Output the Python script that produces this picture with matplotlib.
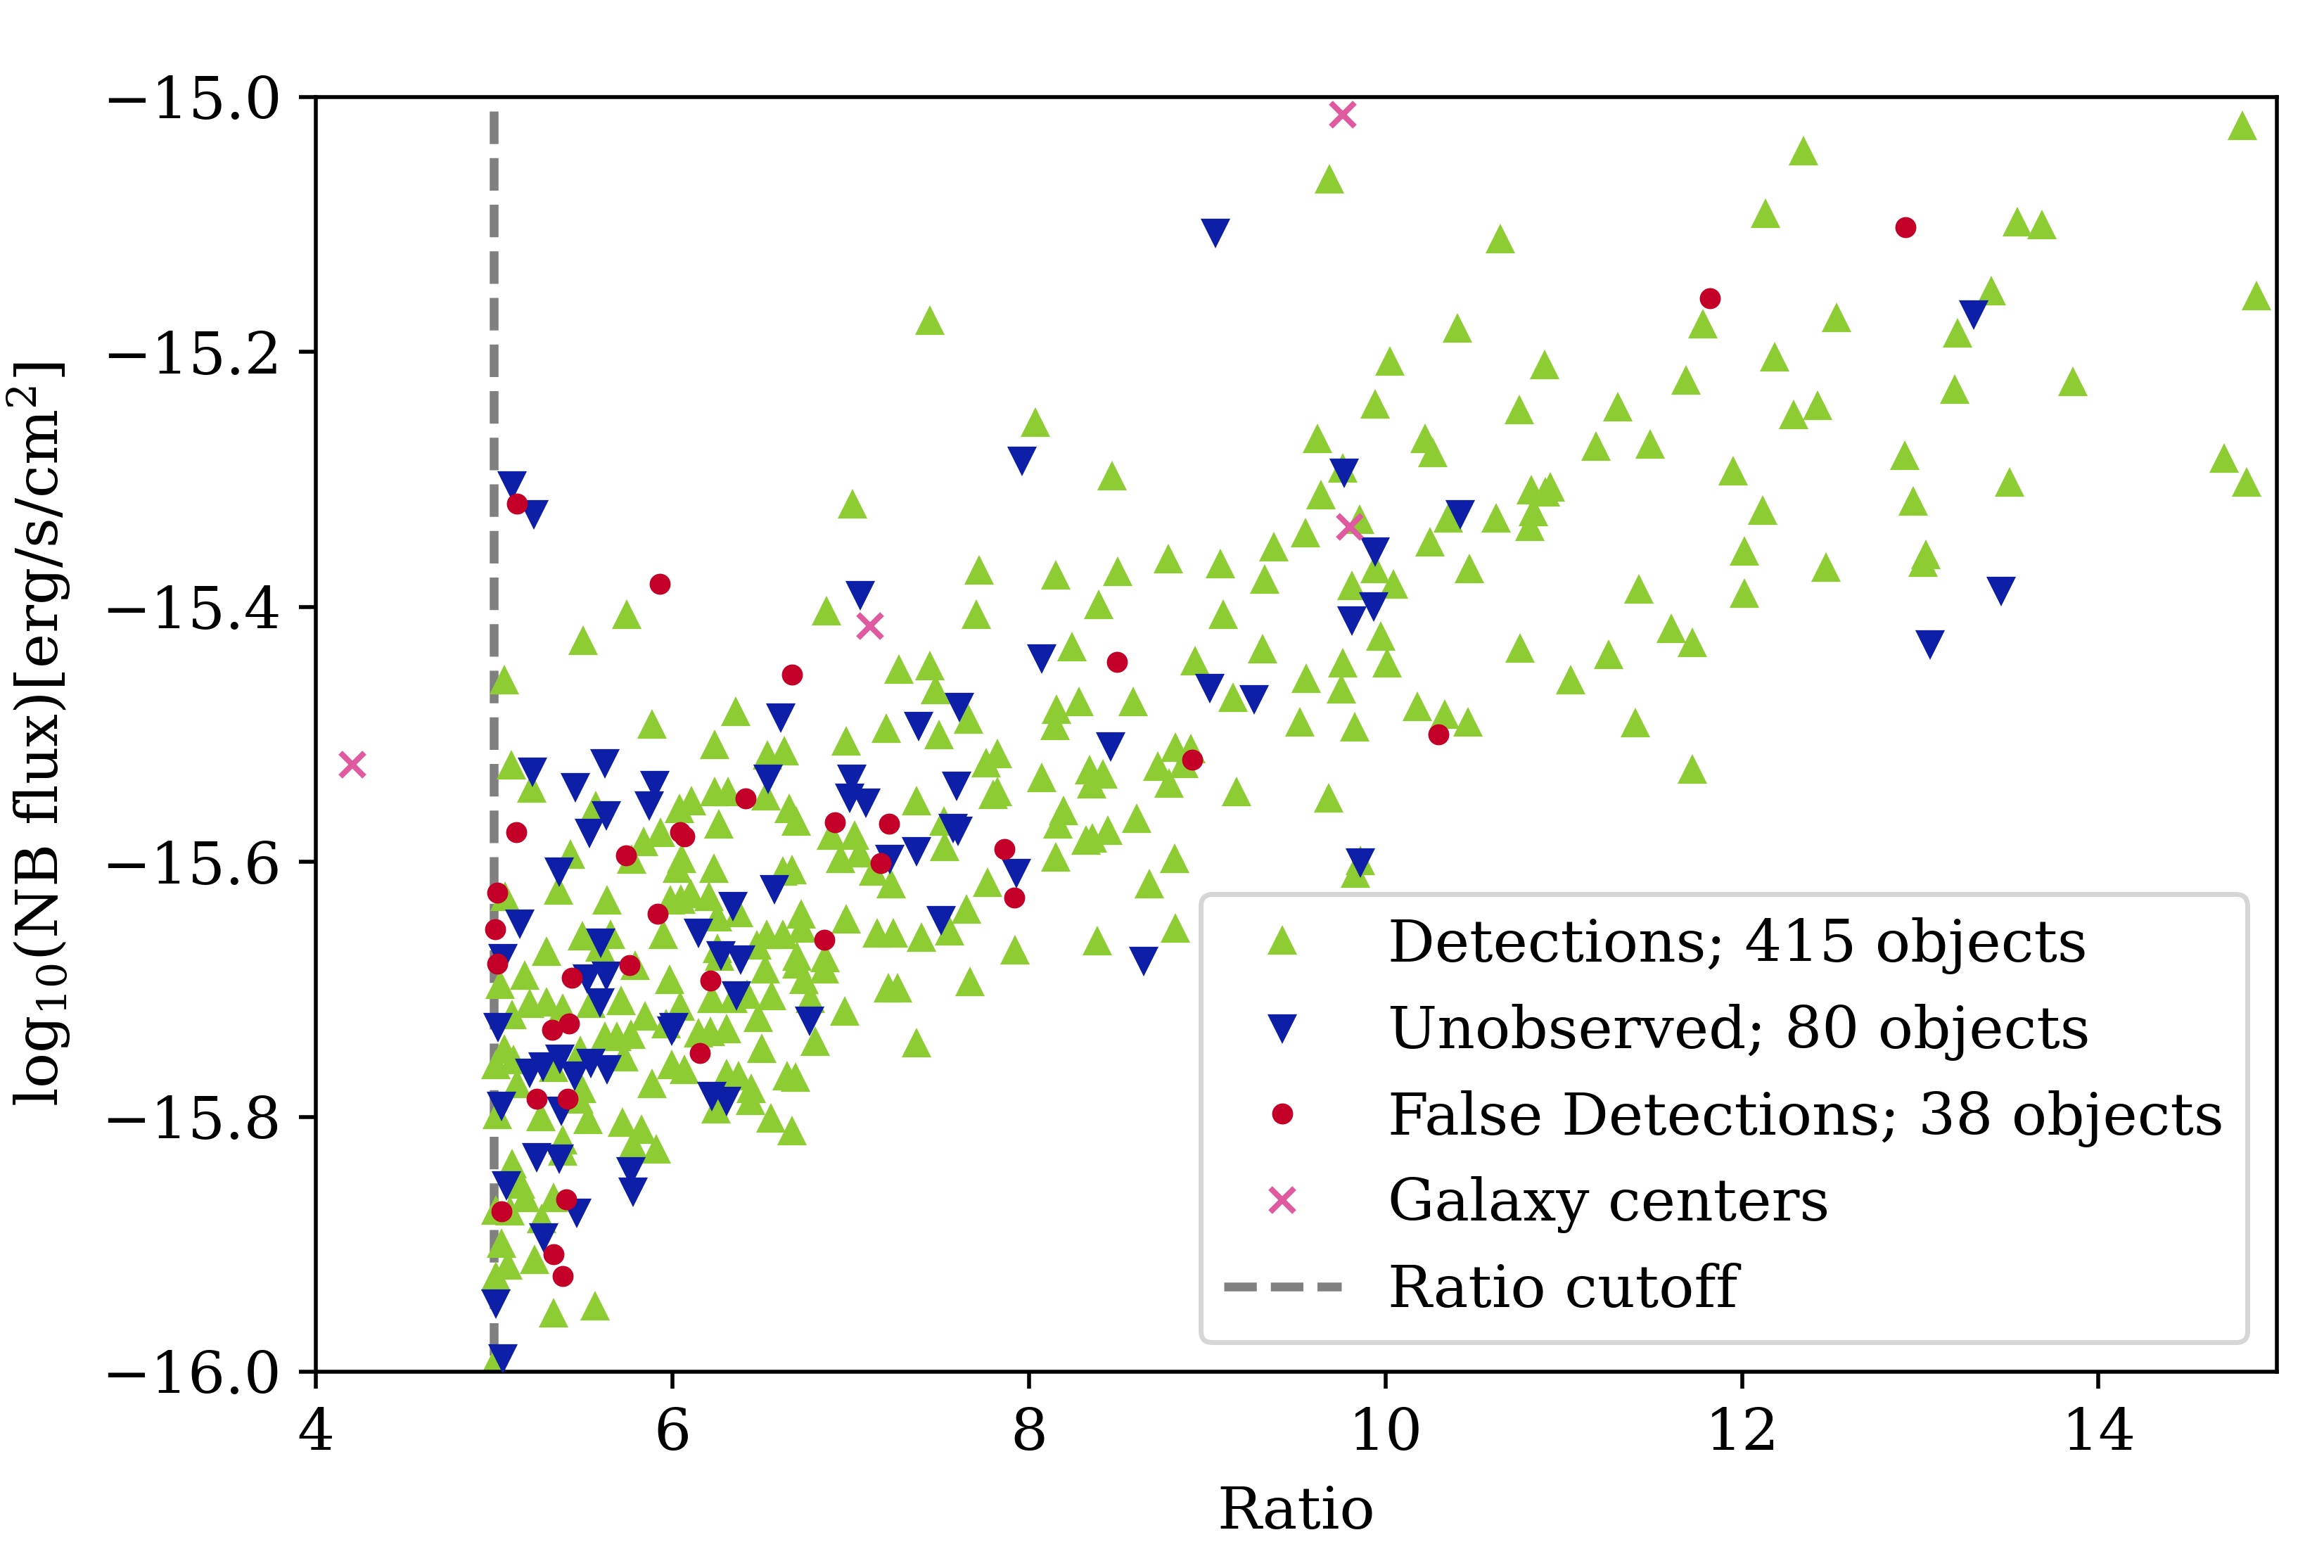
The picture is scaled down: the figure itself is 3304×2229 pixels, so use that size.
import matplotlib
matplotlib.use("Agg")
import matplotlib.pyplot as plt

plt.rcParams['font.family'] = ['DejaVu Serif']
plt.rcParams['mathtext.fontset'] = 'dejavuserif'

# ---------------- data ----------------
det_x = [14.807, 13.546, 13.684, 13.399, 12.531, 13.209, 14.885, 13.195, 13.855, 12.425,
         12.915, 12.961, 13.499, 14.704, 14.831, 12.47, 13.033, 13.015,
         12.346, 12.131, 10.646, 11.779, 10.405, 10.026, 10.893, 12.184, 11.686, 9.943,
         10.752, 11.303, 12.288, 10.222, 10.266, 11.18, 11.483, 11.952, 10.819, 10.923,
         10.897, 10.83, 10.812, 10.62, 10.354, 9.857, 10.248, 9.942, 10.044, 10.47,
         12.117, 12.015, 12.013, 9.975, 10.01, 10.755, 11.42, 11.603, 11.721, 11.252,
         11.039, 10.178, 10.334, 10.461, 11.402, 11.721, 10.06,
         8.038, 8.466, 9.617, 9.762, 9.637, 9.551, 9.372, 9.075, 8.783, 8.499,
         8.151, 9.321, 8.391, 9.09, 9.812, 8.241, 8.93, 9.312, 9.145, 9.554,
         9.762, 9.753, 9.52, 9.828, 8.153, 8.147, 8.282, 8.583, 8.823, 8.91,
         8.723, 8.867, 8.787, 8.07, 8.341, 8.416, 8.35, 9.163, 9.683, 8.194,
         8.164, 8.32, 8.356, 8.443, 8.603, 8.149, 8.816, 8.675, 9.83, 9.86,
         8.382, 8.823, 7.923,
         9.685, 7.443, 7.719, 7.706, 6.863, 5.743, 7.009,
         5.498, 5.056, 6.357, 5.887, 6.237, 5.098, 5.213, 5.569, 6.237, 6.313,
         6.106, 6.038, 6.262, 5.932, 5.84, 5.773, 5.427, 5.362, 6.053, 6.029,
         6.233, 5.063, 5.632, 5.99, 6.049, 6.102, 6.207, 6.253, 5.95, 6.372,
         5.497, 5.652, 5.595, 5.295, 6.253, 6.263, 5.793, 5.172, 5.986, 5.034,
         5.201, 5.293, 5.385, 5.714, 5.845, 5.543, 5.102, 6.148, 6.213, 6.306,
         5.963, 6.22, 6.338, 6.042, 5.056, 5.01, 5.109, 5.687, 5.766, 5.622,
         5.727, 5.484, 5.332, 5.996, 6.069, 5.885, 6.306, 6.371, 6.246, 5.128,
         5.49, 5.477, 5.017, 5.264, 5.527, 5.72, 5.826, 5.779, 5.911, 5.385,
         5.385, 5.102, 5.148, 5.174, 5.332, 5.01, 5.089, 5.266, 5.043, 5.076,
         5.227, 5.01, 5.332, 5.566, 5.004,
         7.272, 7.443, 7.476, 7.663, 7.2, 7.494, 6.975, 6.532, 6.628, 7.759,
         7.822, 7.371, 7.798, 7.825, 6.526, 6.654, 6.693, 6.891, 7.022, 7.522,
         7.529, 6.943, 7.049, 7.127, 7.226, 7.769, 6.621, 6.671, 7.65, 7.555,
         6.724, 6.726, 6.974, 7.147, 7.239, 7.397, 6.529, 6.621, 6.474, 6.7,
         6.7, 6.858, 6.851, 6.522, 6.74, 7.671, 7.21, 7.263, 6.417, 6.555,
         6.772, 6.967, 6.483, 6.5, 6.8, 7.371, 6.444, 6.437, 6.644, 6.69,
         6.553, 6.67]
det_y = [-15.023, -15.099, -15.101, -15.153, -15.174, -15.186, -15.157, -15.230, -15.224, -15.243,
         -15.282, -15.318, -15.303, -15.284, -15.303, -15.370, -15.360, -15.366,
         -15.043, -15.092, -15.112, -15.179, -15.182, -15.208, -15.211, -15.205, -15.223, -15.242,
         -15.246, -15.244, -15.250, -15.269, -15.280, -15.275, -15.273, -15.294, -15.309, -15.307,
         -15.311, -15.326, -15.338, -15.331, -15.331, -15.332, -15.350, -15.371, -15.383, -15.371,
         -15.325, -15.357, -15.390, -15.424, -15.445, -15.433, -15.387, -15.418, -15.429, -15.438,
         -15.458, -15.479, -15.485, -15.491, -15.492, -15.528, -14.990,
         -15.256, -15.298, -15.269, -15.292, -15.313, -15.343, -15.354, -15.367, -15.363, -15.373,
         -15.376, -15.379, -15.399, -15.407, -15.384, -15.432, -15.443, -15.434, -15.472, -15.457,
         -15.445, -15.465, -15.491, -15.495, -15.481, -15.494, -15.475, -15.475, -15.511, -15.512,
         -15.526, -15.524, -15.539, -15.535, -15.529, -15.532, -15.540, -15.546, -15.551, -15.561,
         -15.571, -15.584, -15.582, -15.576, -15.567, -15.597, -15.598, -15.618, -15.610, -15.600,
         -15.663, -15.653, -15.670,
         -15.065, -15.176, -15.372, -15.407, -15.404, -15.407, -15.320,
         -15.427, -15.458, -15.483, -15.493, -15.509, -15.525, -15.543, -15.557, -15.546, -15.546,
         -15.553, -15.559, -15.571, -15.578, -15.585, -15.599, -15.595, -15.623, -15.598, -15.606,
         -15.606, -15.628, -15.631, -15.631, -15.630, -15.626, -15.628, -15.644, -15.658, -15.641,
         -15.659, -15.658, -15.668, -15.671, -15.669, -15.675, -15.682, -15.690, -15.693, -15.697,
         -15.712, -15.711, -15.716, -15.710, -15.722, -15.712, -15.721, -15.735, -15.734, -15.732,
         -15.728, -15.708, -15.708, -15.714, -15.748, -15.760, -15.756, -15.738, -15.736, -15.738,
         -15.754, -15.749, -15.762, -15.760, -15.764, -15.775, -15.767, -15.769, -15.795, -15.775,
         -15.779, -15.787, -15.799, -15.801, -15.803, -15.805, -15.811, -15.823, -15.826, -15.819,
         -15.828, -15.838, -15.854, -15.864, -15.864, -15.874, -15.875, -15.881, -15.900, -15.917,
         -15.913, -15.926, -15.955, -15.949, -15.994,
         -15.450, -15.447, -15.466, -15.489, -15.496, -15.501, -15.506, -15.517, -15.514, -15.523,
         -15.516, -15.553, -15.548, -15.546, -15.549, -15.559, -15.569, -15.580, -15.580, -15.569,
         -15.589, -15.598, -15.594, -15.608, -15.618, -15.617, -15.608, -15.607, -15.638, -15.655,
         -15.642, -15.653, -15.646, -15.657, -15.657, -15.660, -15.658, -15.658, -15.666, -15.675,
         -15.681, -15.676, -15.685, -15.685, -15.693, -15.695, -15.700, -15.700, -15.705, -15.706,
         -15.708, -15.718, -15.723, -15.747, -15.742, -15.743, -15.779, -15.788, -15.769, -15.770,
         -15.802, -15.812]

unobs_x = [13.3, 13.455, 13.055,
           9.769, 10.419, 9.942, 9.81, 9.936, 9.86,
           9.045, 5.102, 5.223, 7.053, 7.963,
           8.07, 9.013, 9.262, 8.457, 7.93, 8.644,
           5.216, 5.62, 5.457, 5.9, 5.871, 5.629, 5.533, 5.365, 5.143, 6.338,
           6.148, 5.599, 5.049, 6.273, 6.384, 5.63, 5.523,
           5.593, 5.023, 6.009, 5.996, 6.358, 5.273, 5.2, 5.368, 5.451, 5.543,
           5.632, 6.22, 6.306, 5.04, 5.378, 5.24, 5.365, 5.766, 5.779, 5.069,
           5.464, 5.28, 5.01, 5.05,
           7.609, 7.383, 6.608, 6.536, 7.006, 6.996, 7.084, 7.596, 7.575, 7.601,
           7.371, 7.221, 6.574, 7.506, 6.77]
unobs_y = [-15.170, -15.387, -15.429,
           -15.294, -15.327, -15.356, -15.410, -15.399, -15.600,
           -15.106, -15.304, -15.327, -15.390, -15.285,
           -15.440, -15.463, -15.472, -15.509, -15.608, -15.677,
           -15.529, -15.522, -15.541, -15.539, -15.555, -15.563, -15.577, -15.607, -15.648, -15.634,
           -15.655, -15.663, -15.675, -15.673, -15.676, -15.689, -15.691,
           -15.710, -15.729, -15.729, -15.732, -15.704, -15.760, -15.765, -15.754, -15.767, -15.757,
           -15.762, -15.783, -15.787, -15.791, -15.795, -15.831, -15.832, -15.842, -15.858, -15.853,
           -15.875, -15.894, -15.946, -15.989,
           -15.478, -15.493, -15.486, -15.534, -15.534, -15.549, -15.553, -15.540, -15.573, -15.575,
           -15.591, -15.597, -15.621, -15.645, -15.724]

false_x = [12.917, 11.821, 10.297, 5.128, 5.93, 8.495, 8.917, 7.917,
           5.126, 6.41, 6.042, 6.069, 5.741, 5.019, 5.005, 5.917, 5.017, 5.758, 5.437, 6.213,
           5.326, 5.422, 6.155, 5.24, 5.414, 5.404, 5.04, 5.332, 5.386,
           6.67, 6.91, 7.216, 7.864, 7.17, 6.851]
false_y = [-15.102, -15.158, -15.500, -15.319, -15.382, -15.443, -15.520, -15.628,
           -15.577, -15.550, -15.577, -15.580, -15.595, -15.624, -15.653, -15.641, -15.680, -15.681, -15.691, -15.693,
           -15.732, -15.727, -15.750, -15.786, -15.786, -15.865, -15.874, -15.908, -15.925,
           -15.453, -15.569, -15.570, -15.590, -15.601, -15.661]

gal_x = [4.205, 9.76, 9.80, 7.11]
gal_y = [-15.524, -15.014, -15.337, -15.415]

cutoff_ratio = 5.0
cutoff_top = -15.011

labels = ['Detections; 415 objects', 'Unobserved; 80 objects',
          'False Detections; 38 objects', 'Galaxy centers', 'Ratio cutoff']

c_det = '#8ECC33'
c_unobs = '#0C1FA6'
c_false = '#C40029'
c_gal = '#E05AA0'

# ---------------- figure ----------------
fig = plt.figure(figsize=(3304 / 500, 2229 / 500), dpi=500)
ax = fig.add_axes([0.1359, 0.1252, 0.9797 - 0.1359, 0.9381 - 0.1252])

cut, = ax.plot([cutoff_ratio, cutoff_ratio], [cutoff_top, -16.05], linestyle='--',
               color='gray', lw=1.8, zorder=1)
h1, = ax.plot(det_x, det_y, linestyle='none', marker='^', ms=4.5, mew=0.9,
              color=c_det, zorder=2)
h2, = ax.plot(unobs_x, unobs_y, linestyle='none', marker='v', ms=4.5, mew=0.9,
              color=c_unobs, zorder=3)
h3, = ax.plot(false_x, false_y, linestyle='none', marker='o', ms=3.5, mew=0.8,
              color=c_false, zorder=4)
h4, = ax.plot(gal_x, gal_y, linestyle='none', marker='x', ms=5.0, mew=1.15,
              color=c_gal, zorder=5)

ax.set_xlim(4, 15)
ax.set_ylim(-16, -15)
ax.set_xticks([4, 6, 8, 10, 12, 14])
ax.set_yticks([-16.0, -15.8, -15.6, -15.4, -15.2, -15.0])
ax.tick_params(labelsize=12)
ax.set_xlabel('Ratio', fontsize=12, labelpad=4.5)
ax.set_ylabel('log$_{10}$(NB flux)[erg/s/cm$^2$]', fontsize=12, labelpad=6)

ax.legend([h1, h2, h3, h4, cut], labels, loc='lower right', fontsize=12)

fig.savefig('out.png', dpi=500)
